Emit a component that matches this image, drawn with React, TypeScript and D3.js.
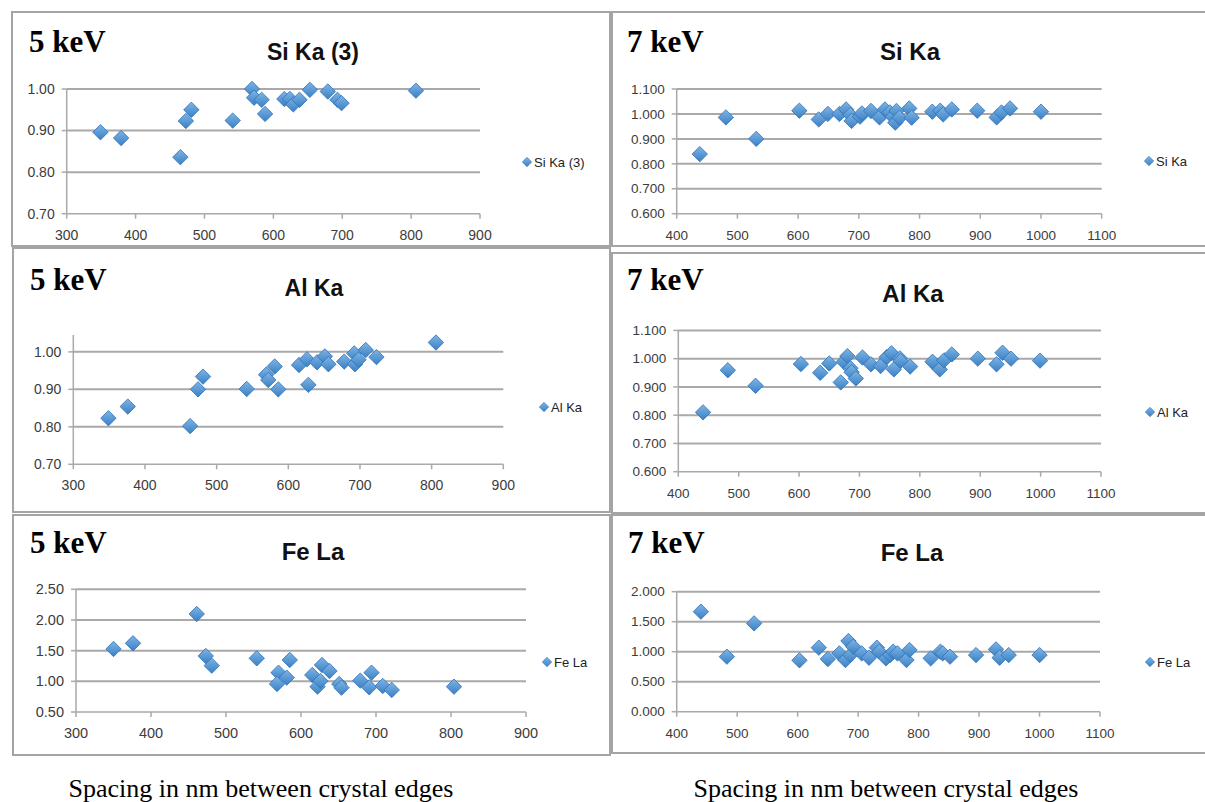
import React from 'react';
import * as d3 from 'd3';

// ---- tick values ----
const xTicks5keV = [300, 400, 500, 600, 700, 800, 900];
const xTicks7keV = [400, 500, 600, 700, 800, 900, 1000, 1100];

const yTicksSi5 = [0.7, 0.8, 0.9, 1.0];
const yTicksSi7 = [0.6, 0.7, 0.8, 0.9, 1.0, 1.1];
const yTicksAl5 = [0.7, 0.8, 0.9, 1.0];
const yTicksAl7 = [0.6, 0.7, 0.8, 0.9, 1.0, 1.1];
const yTicksFe5 = [0.5, 1.0, 1.5, 2.0, 2.5];
const yTicksFe7 = [0, 0.5, 1.0, 1.5, 2.0];

type Pt = [number, number];

// ---- series (spacing nm, ratio) ----
const siKa5: Pt[] = [
  [349, 0.896], [379, 0.882], [465, 0.836], [473, 0.923], [481, 0.95], [541, 0.924],
  [569, 1.0], [572, 0.979], [583, 0.974], [588, 0.94], [616, 0.976], [624, 0.976],
  [629, 0.963], [638, 0.974], [653, 0.998], [679, 0.994], [693, 0.974], [699, 0.966],
  [807, 0.996],
];

const siKa7: Pt[] = [
  [438, 0.839], [481, 0.986], [531, 0.9], [602, 1.013], [634, 0.978], [649, 1.0],
  [668, 1.0], [679, 1.018], [686, 0.996], [688, 0.972], [702, 0.989], [705, 1.002],
  [720, 1.012], [734, 0.986], [743, 1.018], [751, 1.006], [756, 0.989], [760, 0.965],
  [762, 1.012], [767, 0.985], [783, 1.022], [787, 0.985], [821, 1.009], [834, 1.013],
  [839, 0.998], [853, 1.018], [895, 1.013], [927, 0.986], [935, 1.006], [949, 1.022],
  [1000, 1.009],
];

const alKa5: Pt[] = [
  [349, 0.823], [376, 0.854], [463, 0.802], [474, 0.9], [481, 0.934], [542, 0.901],
  [569, 0.939], [572, 0.925], [581, 0.961], [586, 0.9], [615, 0.965], [626, 0.98],
  [628, 0.912], [640, 0.972], [651, 0.988], [656, 0.967], [678, 0.974], [692, 0.996],
  [693, 0.967], [698, 0.979], [708, 1.005], [723, 0.986], [806, 1.025],
];

const alKa7: Pt[] = [
  [441, 0.81], [482, 0.959], [528, 0.904], [603, 0.981], [635, 0.95], [650, 0.983],
  [669, 0.916], [674, 0.989], [680, 1.009], [685, 0.966], [687, 0.952], [694, 0.93],
  [705, 1.004], [719, 0.98], [735, 0.974], [745, 1.005], [753, 1.019], [757, 0.962],
  [767, 1.001], [768, 0.992], [784, 0.972], [821, 0.989], [833, 0.962], [840, 0.994],
  [853, 1.015], [896, 1.0], [927, 0.98], [937, 1.021], [951, 1.0], [999, 0.993],
];

const feLa5: Pt[] = [
  [350, 1.527], [376, 1.62], [461, 2.098], [473, 1.413], [481, 1.255], [541, 1.375],
  [570, 1.141], [568, 0.957], [581, 1.06], [585, 1.348], [615, 1.103], [622, 0.913],
  [626, 1.005], [628, 1.266], [638, 1.168], [651, 0.957], [654, 0.897], [679, 1.011],
  [691, 0.902], [694, 1.141], [709, 0.924], [721, 0.859], [804, 0.913],
];

const feLa7: Pt[] = [
  [440, 1.667], [483, 0.917], [528, 1.472], [603, 0.856], [635, 1.067], [650, 0.878],
  [669, 0.972], [679, 0.861], [684, 1.178], [687, 0.944], [692, 1.083], [706, 0.972],
  [718, 0.9], [731, 1.067], [735, 1.0], [746, 0.889], [753, 0.944], [758, 1.0],
  [765, 0.972], [780, 0.861], [785, 1.028], [820, 0.889], [836, 1.0], [840, 0.972],
  [852, 0.917], [895, 0.944], [928, 1.039], [934, 0.9], [949, 0.944], [1000, 0.944],
];

// ---- layout of the six chart images ----
const panels = [
  {
    key: 'si5', energy: '5 keV', title: 'Si Ka (3)', data: siKa5, xTicks: xTicks5keV,
    yTicks: yTicksSi5, yTop: 1.0, yFmt: '.2f',
    frame: [12, 12, 610, 246], plot: [66.7, 480, 213.7, 89],
    energyAt: [29, 52], titleAt: [313, 60], titleSize: 23, tickSize: 14, legendAt: [527, 162],
  },
  {
    key: 'si7', energy: '7 keV', title: 'Si Ka', data: siKa7, xTicks: xTicks7keV,
    yTicks: yTicksSi7, yTop: 1.1, yFmt: '.3f',
    frame: [612, 12, 1206, 246], plot: [676.7, 1101.7, 213.7, 89],
    energyAt: [627, 52], titleAt: [910, 60], titleSize: 24, tickSize: 13.5, legendAt: [1149, 161],
  },
  {
    key: 'al5', energy: '5 keV', title: 'Al Ka', data: alKa5, xTicks: xTicks5keV,
    yTicks: yTicksAl5, yTop: 1.045, yFmt: '.2f',
    frame: [13, 248, 610, 512], plot: [73.3, 503.3, 464.3, 335],
    energyAt: [30, 290], titleAt: [314, 296], titleSize: 23, tickSize: 14, legendAt: [544, 407],
  },
  {
    key: 'al7', energy: '7 keV', title: 'Al Ka', data: alKa7, xTicks: xTicks7keV,
    yTicks: yTicksAl7, yTop: 1.1, yFmt: '.3f',
    frame: [612, 253, 1206, 513], plot: [678.3, 1101, 471.7, 330.4],
    energyAt: [627, 290], titleAt: [913, 302], titleSize: 24, tickSize: 13.5, legendAt: [1150, 412],
  },
  {
    key: 'fe5', energy: '5 keV', title: 'Fe La', data: feLa5, xTicks: xTicks5keV,
    yTicks: yTicksFe5, yTop: 2.5, yFmt: '.2f',
    frame: [13, 515, 610, 755], plot: [76, 526, 712, 589.3],
    energyAt: [30, 553], titleAt: [313, 560], titleSize: 24, tickSize: 14.5, legendAt: [547, 662],
  },
  {
    key: 'fe7', energy: '7 keV', title: 'Fe La', data: feLa7, xTicks: xTicks7keV,
    yTicks: yTicksFe7, yTop: 2.0, yFmt: '.3f',
    frame: [612, 515, 1206, 753], plot: [676.7, 1100, 711.7, 591.7],
    energyAt: [628, 553], titleAt: [912, 561], titleSize: 24, tickSize: 13.5, legendAt: [1150, 662],
  },
];

const GRID = '#a9a9a9';
const TICK_TEXT = '#3c3c3c';
const SANS = '"Liberation Sans", Arial, sans-serif';
const SERIF = '"Liberation Serif", "Times New Roman", serif';

const marker = d3.symbol(d3.symbolSquare, 118)() as string;
const legendMarker = d3.symbol(d3.symbolSquare, 44)() as string;

function Panel({ p }: { p: (typeof panels)[number] }) {
  const [left, right, bottom, top] = p.plot;
  const x = d3.scaleLinear()
    .domain([p.xTicks[0], p.xTicks[p.xTicks.length - 1]])
    .range([left, right]);
  const y = d3.scaleLinear()
    .domain([p.yTicks[0], p.yTop])
    .range([bottom, top]);
  const fmt = d3.format(p.yFmt);
  const [fx0, fy0, fx1, fy1] = p.frame;

  return (
    <g>
      {/* frame of the chart image */}
      <rect x={fx0} y={fy0} width={fx1 - fx0} height={fy1 - fy0}
        fill="none" stroke="#a4a4a4" strokeWidth={2} />

      <text x={p.energyAt[0]} y={p.energyAt[1]} fontFamily={SERIF} fontWeight="bold"
        fontSize={31} fill="#000">{p.energy}</text>
      <text x={p.titleAt[0]} y={p.titleAt[1]} textAnchor="middle" fontFamily={SANS}
        fontWeight="bold" fontSize={p.titleSize} fill="#111">{p.title}</text>

      {/* gridlines */}
      {p.yTicks.slice(1).map((t) => (
        <line key={`g${t}`} x1={left} x2={right} y1={y(t)} y2={y(t)}
          stroke={GRID} strokeWidth={2} />
      ))}

      {/* axes */}
      <line x1={left} x2={right} y1={bottom} y2={bottom} stroke={GRID} strokeWidth={1.5} />
      <line x1={left} x2={left} y1={bottom} y2={top} stroke={GRID} strokeWidth={1.5} />

      {p.yTicks.map((t) => (
        <g key={`y${t}`}>
          <line x1={left - 5} x2={left} y1={y(t)} y2={y(t)} stroke={GRID} strokeWidth={1.5} />
          <text x={left - 12} y={y(t)} dy="0.35em" textAnchor="end" fontFamily={SANS}
            fontSize={p.tickSize} fill={TICK_TEXT}>{fmt(t)}</text>
        </g>
      ))}
      {p.xTicks.map((t) => (
        <g key={`x${t}`}>
          <line x1={x(t)} x2={x(t)} y1={bottom} y2={bottom + 5} stroke={GRID} strokeWidth={1.5} />
          <text x={x(t)} y={bottom + 26} textAnchor="middle" fontFamily={SANS}
            fontSize={p.tickSize} fill={TICK_TEXT}>{t}</text>
        </g>
      ))}

      {/* points */}
      {p.data.map(([vx, vy], i) => (
        <path key={i} d={marker}
          transform={`translate(${x(vx)},${y(vy)}) rotate(45)`}
          fill="url(#diamondFill)" stroke="#3575b8" strokeWidth={0.8} />
      ))}

      {/* legend */}
      <path d={legendMarker}
        transform={`translate(${p.legendAt[0]},${p.legendAt[1]}) rotate(45)`}
        fill="url(#diamondFill)" stroke="#3575b8" strokeWidth={0.6} />
      <text x={p.legendAt[0] + 7} y={p.legendAt[1]} dy="0.35em" fontFamily={SANS}
        fontSize={13} fill="#222">{p.title}</text>
    </g>
  );
}

export default function App() {
  return (
    <svg width={1205} height={802} viewBox="0 0 1205 802"
      style={{ position: 'absolute', left: 0, top: 0, background: '#fff' }}>
      <defs>
        <linearGradient id="diamondFill" x1="0" y1="0" x2="1" y2="1">
          <stop offset="0%" stopColor="#7eb5e6" />
          <stop offset="100%" stopColor="#3a80c4" />
        </linearGradient>
      </defs>
      <rect width={1205} height={802} fill="#fff" />
      {panels.map((p) => <Panel key={p.key} p={p} />)}
      <text x={261} y={797} textAnchor="middle" fontFamily={SERIF} fontSize={26} fill="#000">
        Spacing in nm between crystal edges
      </text>
      <text x={886} y={797} textAnchor="middle" fontFamily={SERIF} fontSize={26} fill="#000">
        Spacing in nm between crystal edges
      </text>
    </svg>
  );
}
